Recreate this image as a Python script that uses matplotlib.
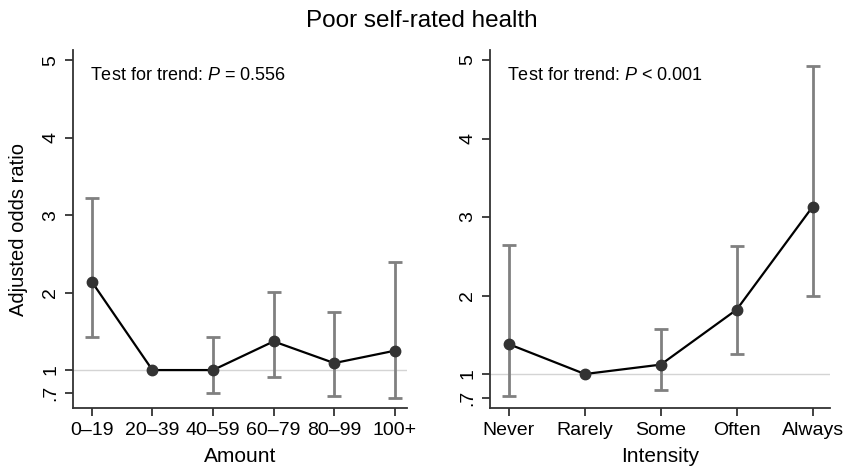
import matplotlib
matplotlib.use("Agg")
import matplotlib.pyplot as plt

plt.rcParams["font.family"] = ["Liberation Sans", "DejaVu Sans"]
plt.rcParams["mathtext.fontset"] = "custom"
plt.rcParams["mathtext.rm"] = "Liberation Sans"
plt.rcParams["mathtext.it"] = "Liberation Sans:italic"

# ── data ─────────────────────────────────────────────────────────────────
AMOUNT_CATS = ["0–19", "20–39", "40–59", "60–79", "80–99", "100+"]
AMOUNT_OR = [2.14, 1.00, 1.00, 1.37, 1.09, 1.25]
AMOUNT_LO = [1.43, None, 0.70, 0.91, 0.66, 0.64]
AMOUNT_HI = [3.22, None, 1.43, 2.01, 1.75, 2.40]

INTENS_CATS = ["Never", "Rarely", "Some", "Often", "Always"]
INTENS_OR = [1.38, 1.00, 1.12, 1.82, 3.13]
INTENS_LO = [0.72, None, 0.80, 1.25, 1.99]
INTENS_HI = [2.65, None, 1.57, 2.63, 4.93]

Y_TICKS = [0.7, 1, 2, 3, 4, 5]
Y_TICK_LABELS = [".7", "1", "2", "3", "4", "5"]

TITLE = "Poor self-rated health"
TREND_AMOUNT = "Test for trend: $P$ = 0.556"
TREND_INTENS = "Test for trend: $P$ < 0.001"


def draw_panel(ax, cats, odds, lo, hi, xlabel, trend, xlim, ylim):
    xs = list(range(len(cats)))
    ax.axhline(1, color="#d4d4d4", lw=1, zorder=1)
    for x, o, l, h in zip(xs, odds, lo, hi):
        if l is None:
            continue
        ax.errorbar([x], [o], yerr=[[o - l], [h - o]], fmt="none",
                    ecolor="#808080", elinewidth=2, capsize=5, capthick=2,
                    zorder=2)
    ax.plot(xs, odds, color="black", lw=1.6, marker="o", ms=7.5,
            mfc="#333333", mec="#333333", zorder=3)
    ax.set_xticks(xs)
    ax.set_xticklabels(cats, fontsize=14)
    ax.set_yticks(Y_TICKS)
    ax.set_yticklabels(Y_TICK_LABELS, fontsize=14, rotation=90, va="center")
    ax.set_xlim(*xlim)
    ax.set_ylim(*ylim)
    ax.set_xlabel(xlabel, fontsize=15, labelpad=6)
    for s in ("top", "right"):
        ax.spines[s].set_visible(False)
    for s in ("left", "bottom"):
        ax.spines[s].set_linewidth(1.3)
        ax.spines[s].set_color("#333333")
    ax.tick_params(length=6, width=1.3, color="#333333", pad=4)
    ax.text(0.05, 0.93, trend, transform=ax.transAxes, fontsize=13,
            ha="left", va="center")


fig = plt.figure(figsize=(8.44, 4.69), dpi=100)
ax1 = fig.add_axes([0.0865, 0.130, 0.3957, 0.7633])
ax2 = fig.add_axes([0.5806, 0.130, 0.4028, 0.7633])

draw_panel(ax1, AMOUNT_CATS, AMOUNT_OR, AMOUNT_LO, AMOUNT_HI, "Amount",
           TREND_AMOUNT, (-0.31, 5.2), (0.51, 5.13))
draw_panel(ax2, INTENS_CATS, INTENS_OR, INTENS_LO, INTENS_HI, "Intensity",
           TREND_INTENS, (-0.25, 4.23), (0.567, 5.127))

ax1.set_ylabel("Adjusted odds ratio", fontsize=14.5)
ax1.yaxis.set_label_coords(-0.135, 0.5)

fig.text(0.5, 0.955, TITLE, ha="center", va="center", fontsize=17.5)

fig.savefig("out.png", dpi=100)
plt.close("all")
